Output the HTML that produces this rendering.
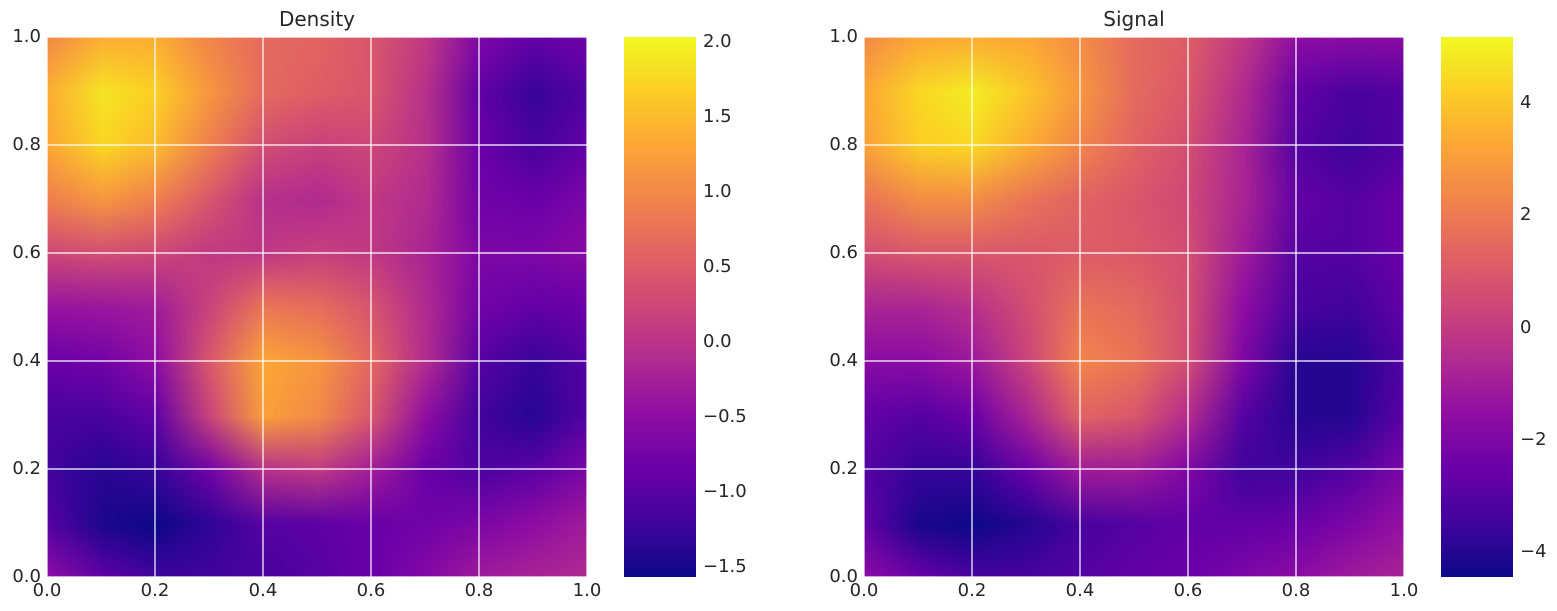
<!DOCTYPE html>
<html><head><meta charset="utf-8">
<style>
body{margin:0;background:#fff;width:1557px;height:611px;overflow:hidden;position:relative;font-family:"DejaVu Sans","Liberation Sans",sans-serif;color:#262626}
.ax{position:absolute;overflow:hidden}
.ax canvas{position:absolute}
.lbl{position:absolute;font-size:18px;white-space:nowrap}
.title{position:absolute;font-size:20px;transform:translateX(-50%)}
svg{position:absolute;left:0;top:0}
</style></head><body>
<div class="title" style="left:317px;top:7px">Density</div>
<div class="title" style="left:1134px;top:7px">Signal</div>
<script>
const gridX=[0,0.1,0.2,0.3,0.4,0.5,0.6,0.7,0.8,0.9,1.0];
const gridY=[1.0,0.9,0.8,0.7,0.6,0.5,0.4,0.3,0.2,0.1,0.0];
const densityValues=[
[1.02,1.38,1.38,0.95,0.66,0.59,0.41,0.05,-0.67,-0.92,-0.78],
[1.38,1.85,1.67,1.13,0.66,0.52,0.41,-0.06,-0.92,-1.28,-1.03],
[1.31,1.74,1.49,0.88,0.30,0.16,0.23,-0.06,-0.85,-1.14,-0.92],
[0.88,1.13,0.88,0.41,-0.06,-0.13,0.05,-0.13,-0.78,-0.85,-0.67],
[0.23,0.30,0.23,0.05,0.05,0.16,0.05,-0.2,-0.67,-0.67,-0.56],
[-0.42,-0.38,-0.31,0.2,0.81,0.7,0.4,-0.13,-0.78,-0.92,-0.85],
[-0.85,-0.78,-0.49,0.45,1.31,1.13,0.6,-0.13,-1.03,-1.28,-1.03],
[-1.14,-1.14,-0.92,0.2,1.24,1.0,0.4,-0.49,-1.21,-1.39,-1.03],
[-1.21,-1.39,-1.28,-0.78,-0.06,0.05,-0.31,-0.85,-1.1,-0.96,-0.67],
[-1.03,-1.46,-1.57,-1.32,-1.03,-0.96,-0.85,-0.78,-0.67,-0.49,-0.31],
[-0.49,-0.92,-1.21,-1.21,-1.14,-1.03,-0.85,-0.6,-0.31,-0.2,-0.13]];
const signalValues=[
[2.5,3.3,3.4,3.3,2.5,1.5,1.1,-0.1,-1.6,-1.7,-1.7],
[3.3,4.4,4.9,4.0,2.8,1.5,0.9,-0.6,-2.7,-3.3,-3.0],
[3.1,4.2,4.4,3.4,2.3,1.3,0.6,-0.8,-3.0,-3.5,-3.0],
[1.8,2.5,2.5,1.8,1.3,0.9,0.4,-0.8,-2.7,-3.0,-2.5],
[0.6,0.9,0.9,0.9,1.1,1.0,0.6,-1.1,-3.0,-3.0,-2.5],
[-0.8,-0.8,-0.4,0.6,1.8,1.5,0.6,-1.6,-3.3,-3.5,-2.7],
[-1.7,-1.7,-1.2,0.3,2.3,1.8,0.5,-2.0,-4.0,-4.0,-3.0],
[-2.7,-3.0,-2.5,-0.8,1.3,0.9,-0.6,-3.0,-4.0,-4.0,-2.8],
[-3.0,-3.7,-3.7,-2.5,-1.1,-1.1,-2.0,-3.5,-3.5,-3.0,-2.0],
[-2.7,-4.2,-4.4,-4.0,-3.3,-3.0,-2.7,-2.7,-2.5,-2.0,-1.4],
[-1.6,-2.5,-3.3,-3.3,-3.0,-2.7,-2.5,-2.0,-1.6,-1.1,-0.8]];
const densityRange=[-1.57,2.03];
const signalRange=[-4.44,5.17];
const axisTicks=[0,0.2,0.4,0.6,0.8,1.0];
const axisTickLabels=["0.0","0.2","0.4","0.6","0.8","1.0"];
const densityCbTicks=[2.0,1.5,1.0,0.5,0.0,-0.5,-1.0,-1.5];
const densityCbLabels=["2.0","1.5","1.0","0.5","0.0","\u22120.5","\u22121.0","\u22121.5"];
const signalCbTicks=[4,2,0,-2,-4];
const signalCbLabels=["4","2","0","\u22122","\u22124"];

const plasma=["#0d0887","#41049d","#6a00a8","#8f0da4","#b12a90","#cc4778","#e16462","#f2844b","#fca636","#fcce25","#f0f921"];
function hex(h){return [parseInt(h.substr(1,2),16),parseInt(h.substr(3,2),16),parseInt(h.substr(5,2),16)];}
function cmap(t){t=Math.max(0,Math.min(1,t));const f=t*10,i=Math.min(9,Math.floor(f)),r=f-i;const a=hex(plasma[i]),b=hex(plasma[i+1]);return a.map((v,k)=>Math.round(v+(b[k]-v)*r));}

function panel(name,L,T,S,vals,range,cbX,cbTicks,cbLabels){
  const ax=document.createElement('div');ax.className='ax';
  
  
  ax.style.cssText=`left:${L}px;top:${T}px;width:${S}px;height:${S}px`;
  const n=gridX.length,step=S*(gridX[1]-gridX[0]);
  const cv=document.createElement('canvas');cv.width=n;cv.height=gridY.length;
  
  
  const ctx=cv.getContext('2d');const img=ctx.createImageData(n,gridY.length);
  vals.forEach((row,j)=>row.forEach((v,i)=>{const c=cmap((v-range[0])/(range[1]-range[0]));const p=(j*n+i)*4;img.data[p]=c[0];img.data[p+1]=c[1];img.data[p+2]=c[2];img.data[p+3]=255;}));
  ctx.putImageData(img,0,0);
  cv.style.cssText=`left:${gridX[0]*S-step/2}px;top:${(1-gridY[0])*S-step/2}px;width:${step*n}px;height:${step*gridY.length}px`;
  ax.appendChild(cv);
  const ns='http://www.w3.org/2000/svg';
  const sv=document.createElementNS(ns,'svg');sv.setAttribute('width',S);sv.setAttribute('height',S);
  axisTicks.forEach(t=>{
    const p=t*S;
    const l1=document.createElementNS(ns,'line');
    
    
    l1.setAttribute('x1',p);l1.setAttribute('x2',p);l1.setAttribute('y1',0);l1.setAttribute('y2',S);l1.setAttribute('stroke','#fff');l1.setAttribute('stroke-width','1.2');sv.appendChild(l1);
    const l2=document.createElementNS(ns,'line');
    
    
    l2.setAttribute('y1',S-p);l2.setAttribute('y2',S-p);l2.setAttribute('x1',0);l2.setAttribute('x2',S);l2.setAttribute('stroke','#fff');l2.setAttribute('stroke-width','1.2');sv.appendChild(l2);
  });
  ax.appendChild(sv);document.body.appendChild(ax);
  axisTicks.forEach((t,k)=>{
    const x=document.createElement('div');x.className='lbl';x.textContent=axisTickLabels[k];
    
    
    x.style.cssText=`left:${L+t*S}px;top:${T+S+3}px;transform:translateX(-50%)`;document.body.appendChild(x);
    const y=document.createElement('div');y.className='lbl';y.textContent=axisTickLabels[k];
    
    
    y.style.cssText=`right:${1557-L+6}px;top:${T+S-t*S-11}px`;document.body.appendChild(y);
  });
  const cb=document.createElement('div');
  
  
  cb.style.cssText=`position:absolute;left:${cbX}px;top:${T}px;width:72px;height:${S}px;background:linear-gradient(to top,${plasma.map((c,i)=>c+' '+(i*10)+'%').join(',')})`;
  document.body.appendChild(cb);
  cbTicks.forEach((v,k)=>{
    const y=T+S*(range[1]-v)/(range[1]-range[0]);
    const d=document.createElement('div');d.className='lbl';d.textContent=cbLabels[k];
    
    
    d.style.cssText=`left:${cbX+79}px;top:${y-11}px`;document.body.appendChild(d);
  });
}
panel('density',47,37,540,densityValues,densityRange,624,densityCbTicks,densityCbLabels);
panel('signal',864,37,540,signalValues,signalRange,1441,signalCbTicks,signalCbLabels);
</script>
</body></html>
